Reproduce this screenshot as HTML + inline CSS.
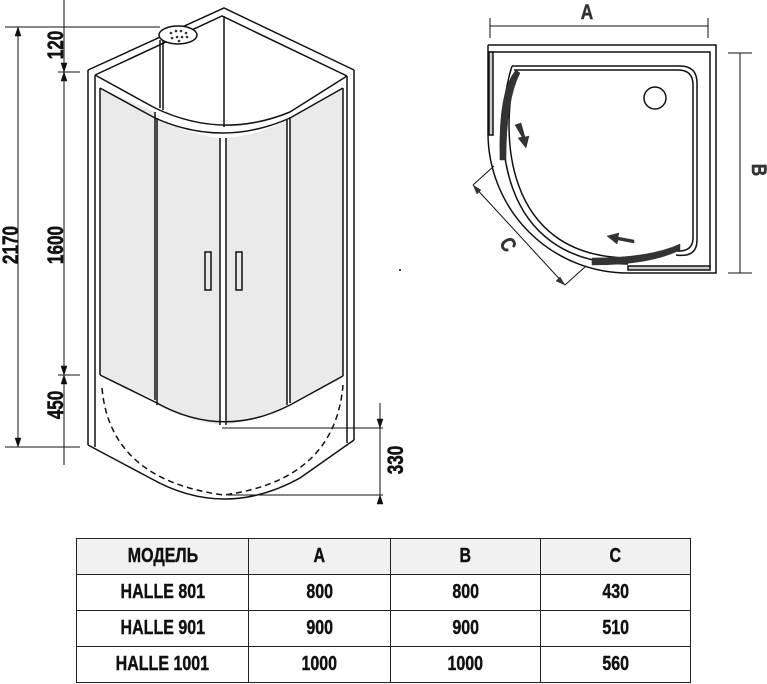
<!DOCTYPE html>
<html><head><meta charset="utf-8"><style>
html,body{margin:0;padding:0;background:#fff;width:767px;height:684px;overflow:hidden}
svg{position:absolute;left:0;top:0}
table{position:absolute;left:76px;top:538px;border-collapse:collapse;font-family:"Liberation Sans",sans-serif;font-weight:bold;font-size:20px;color:#111;-webkit-text-stroke:0.4px #111}
td{border:1.5px solid #222;text-align:center;padding:0;height:35px}
td span{display:inline-block;transform:scaleX(0.8)}
tr:first-child td{background:#f1f1f1}
</style></head><body>
<svg width="767" height="684" viewBox="0 0 767 684" font-family="Liberation Sans, sans-serif" font-weight="bold">
<g stroke="#111" stroke-width="1.5" fill="none">
<path d="M100,88 L155,112 L155,400 L100,375 Z" fill="#eaeaea" stroke="none"/>
<path d="M157,118 Q190,135 220,138 L220,425 Q185,420 157,405 Z" fill="#eaeaea" stroke="none"/>
<path d="M226,138 Q260,135 287,120 L287,405 Q260,420 226,425 Z" fill="#eaeaea" stroke="none"/>
<path d="M290,117 L343,88 L343,376 L290,403 Z" fill="#eaeaea" stroke="none"/>
<path d="M88,70 L224,8 L354,70"/>
<path d="M95,75 L222,16 L347,76"/>
<path d="M88,70 L88,445 M95,75 L95,447 M354,70 L354,440 M347,76 L347,443"/>
<path d="M95,75 L155,108 Q222,140 290,112 L347,76"/>
<path d="M100,88 L155,118 Q222,148 290,118 L343,88"/>
<path d="M100,88 L100,375 M343,88 L343,376"/>
<path d="M155,112 L155,400 M157,118 L157,405 M220,138 L220,425 M226,138 L226,425 M287,120 L287,405 M290,117 L290,403"/>
<path d="M160,40 L160,108 M163,38 L163,110 M224,16 L224,127"/>
<path d="M100,375 L155,402 Q222,440 290,405 L343,376"/>
<path d="M88,445 L150,478 Q224,520 300,478 L354,440"/>
<path d="M102,388 Q110,480 224,495 Q335,480 343,385" stroke-dasharray="6,4"/>
<rect x="205" y="252" width="6" height="38"/><rect x="236" y="252" width="6" height="38"/>
<ellipse cx="178" cy="35" rx="19" ry="9" fill="#fff"/>
<path d="M18,27 L18,447 M5,27 L160,27 M5,447 L80,447 M64,0 L64,465 M58,72 L80,72 M58,375 L80,375 M380,403 L380,500 M222,428 L383,428 M228,495 L383,495" stroke-width="1"/>
</g>
<g fill="#333"><circle cx="171" cy="33" r="1.3"/><circle cx="176" cy="31" r="1.3"/><circle cx="181" cy="31" r="1.3"/><circle cx="186" cy="33" r="1.3"/><circle cx="172" cy="38" r="1.3"/><circle cx="177" cy="37" r="1.3"/><circle cx="182" cy="37" r="1.3"/><circle cx="187" cy="37" r="1.3"/><circle cx="179" cy="41" r="1.3"/></g>
<g fill="#111" stroke="#111" stroke-width="0.5">
<path d="M18,27 l-3,9 h6z M18,447 l-3,-9 h6z M64,72 l-3,-9 h6z M64,72 l-3,9 h6z M64,375 l-3,-9 h6z M64,375 l-3,9 h6z M380,428 l-3,-9 h6z M380,495 l-3,9 h6z"/>
<text font-size="22" transform="translate(18,245) rotate(-90) scale(0.78,1)" text-anchor="middle">2170</text>
<text font-size="22" transform="translate(63,245) rotate(-90) scale(0.78,1)" text-anchor="middle">1600</text>
<text font-size="22" transform="translate(63,45) rotate(-90) scale(0.78,1)" text-anchor="middle">120</text>
<text font-size="22" transform="translate(63,405) rotate(-90) scale(0.78,1)" text-anchor="middle">450</text>
<text font-size="22" transform="translate(403,460) rotate(-90) scale(0.78,1)" text-anchor="middle">330</text>
<circle cx="400" cy="270" r="0.8"/>
</g>
<g stroke="#111" stroke-width="1.5" fill="none">
<path d="M490,26 L708,26 M490,18 L490,38 M708,18 L708,38 M740,53 L740,273 M728,53 L752,53 M728,273 L752,273" stroke-width="1"/>
<path d="M488,45 L716,45 L716,273 L628,273 M488,45 L488,133 A140,140 0 0 0 628,273"/>
<path d="M488,52 L710,52 L710,268"/>
<rect x="489" y="52" width="4" height="83" fill="#ccc"/>
<rect x="628" y="266" width="82" height="4" fill="#ccc"/>
<path d="M512,66 L680,66 Q697,66 697,83 L697,240 Q697,258 676,255"/>
<path d="M514,70 L678,70 Q693,70 693,85 L693,238 Q693,252 676,251"/>
<path d="M512,66 C492,130 495,262 628,264"/>
<path d="M516,70 C500,130 502,256 628,258"/>
<circle cx="655" cy="98" r="11"/>
<path d="M473,185 L565,285 M473,185 L494,166 M565,285 L586,266" stroke-width="1"/>
</g>
<g fill="#333" stroke="#333" stroke-width="0.5">
<path d="M516,70 Q498,90 500,160 L506,160 Q506,100 520,73 Z"/>
<path d="M592,258 Q650,258 680,244 L680,250 Q650,265 592,265 Z"/>
<path d="M515,125 l6,-2 l4,14 l4,-1 l-3,12 l-8,-10 l4,-1z"/>
<path d="M634,240 l-16,-3 l1,-4 l-12,3 l10,8 l1,-4 l16,3z"/>
<path d="M473,185 l4,9 l4,-4z M565,285 l-9,-4 l4,-4z"/>
<text font-size="21" transform="translate(587,19) scale(0.82,1)" text-anchor="middle">A</text>
<text font-size="21" transform="translate(752,170) rotate(90) scale(0.82,1)" text-anchor="middle">B</text>
<text font-size="21" transform="translate(502,248) rotate(60) scale(0.82,1)" text-anchor="middle">C</text>
</g>
</svg>
<table>
<tr><td style="width:171px"><span>МОДЕЛЬ</span></td><td style="width:141px"><span>A</span></td><td style="width:149px"><span>B</span></td><td style="width:149px"><span>C</span></td></tr>
<tr><td><span>HALLE 801</span></td><td><span>800</span></td><td><span>800</span></td><td><span>430</span></td></tr>
<tr><td><span>HALLE 901</span></td><td><span>900</span></td><td><span>900</span></td><td><span>510</span></td></tr>
<tr><td><span>HALLE 1001</span></td><td><span>1000</span></td><td><span>1000</span></td><td><span>560</span></td></tr>
</table>
</body></html>
